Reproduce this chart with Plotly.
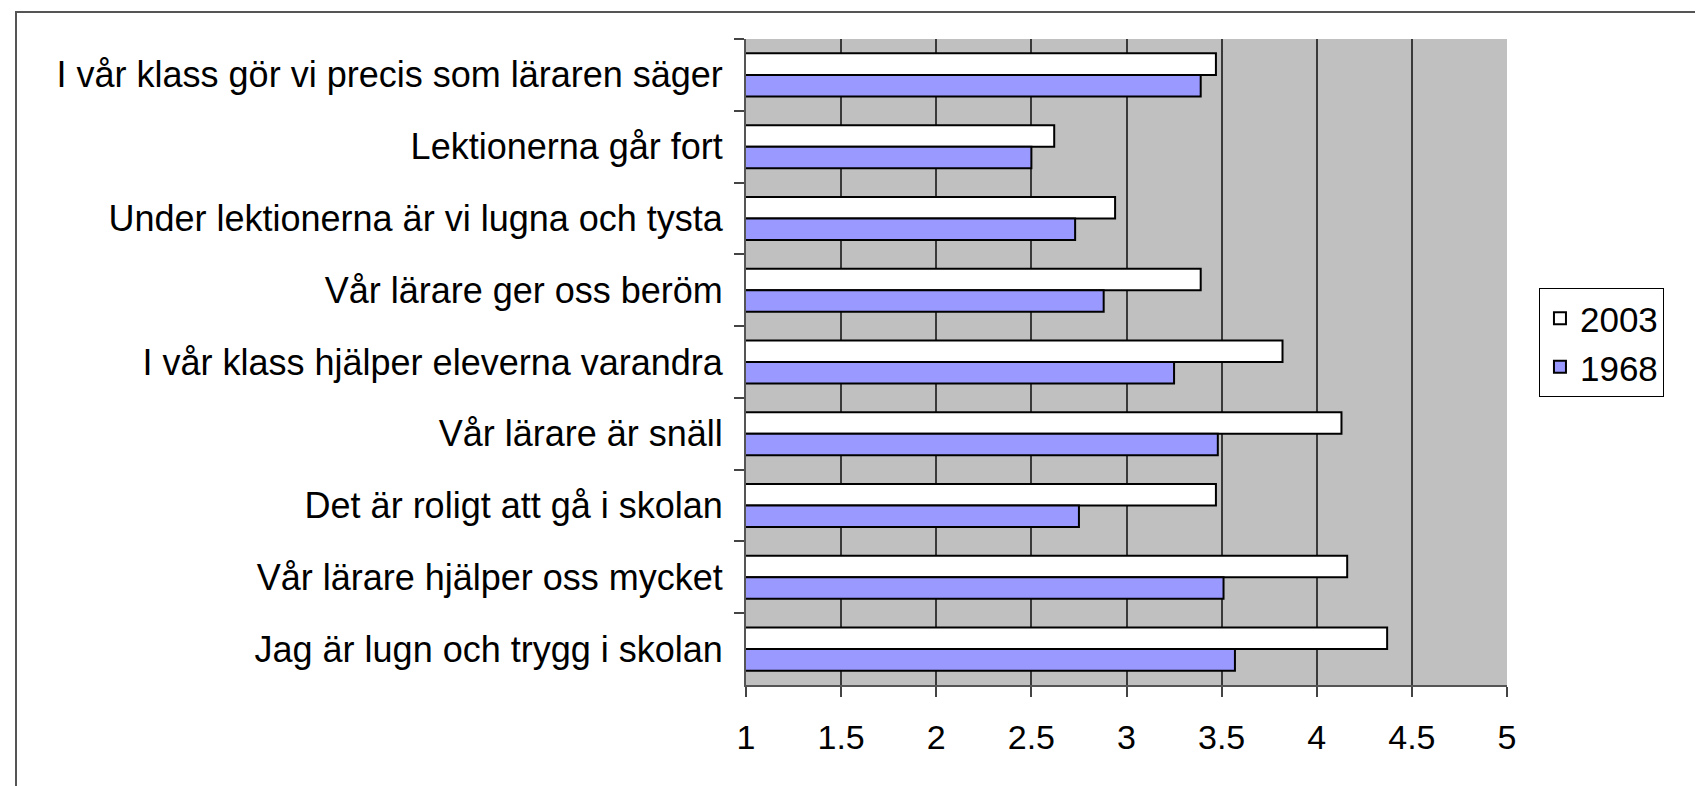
import plotly.graph_objects as go

categories = [
    "I vår klass gör vi precis som läraren säger",
    "Lektionerna går fort",
    "Under lektionerna är vi lugna och tysta",
    "Vår lärare ger oss beröm",
    "I vår klass hjälper eleverna varandra",
    "Vår lärare är snäll",
    "Det är roligt att gå i skolan",
    "Vår lärare hjälper oss mycket",
    "Jag är lugn och trygg i skolan",
]
values_2003 = [3.47, 2.62, 2.94, 3.39, 3.82, 4.13, 3.47, 4.16, 4.37]
values_1968 = [3.39, 2.50, 2.73, 2.88, 3.25, 3.48, 2.75, 3.51, 3.57]
x_ticks = [1, 1.5, 2, 2.5, 3, 3.5, 4, 4.5, 5]

FONT = "Liberation Sans, Arial, sans-serif"
W, H = 1703, 786
L, R, T, B = 738, 204, 31, 109

fig = go.Figure()
fig.add_trace(
    go.Bar(
        y=categories,
        x=values_2003,
        orientation="h",
        name="2003",
        marker=dict(color="#FFFFFF", line=dict(color="#000000", width=2)),
    )
)
fig.add_trace(
    go.Bar(
        y=categories,
        x=values_1968,
        orientation="h",
        name="1968",
        marker=dict(color="#9999FF", line=dict(color="#000000", width=2)),
    )
)

# ram runt hela bilden
pw, ph = W - L - R, H - T - B
fig.add_shape(
    type="rect",
    xref="paper",
    yref="paper",
    x0=(8 - L) / pw,
    x1=(W - 7 - L) / pw,
    y0=-(780 - (H - B)) / ph,
    y1=((H - B) - 4) / ph,
    line=dict(color="#555555", width=2),
    layer="below",
)

fig.update_layout(
    width=W,
    height=H,
    barmode="group",
    bargap=0.4,
    bargroupgap=0,
    paper_bgcolor="#FFFFFF",
    plot_bgcolor="#C0C0C0",
    font=dict(family=FONT, size=36, color="#000000"),
    margin=dict(l=L, r=R, t=T, b=B, pad=0),
    showlegend=True,
    legend=dict(
        x=1.042,
        y=0.53,
        xanchor="left",
        yanchor="middle",
        bgcolor="#FFFFFF",
        bordercolor="#000000",
        borderwidth=1,
        font=dict(size=35),
        itemwidth=30,
        tracegroupgap=0,
    ),
    xaxis=dict(
        range=[1, 5],
        tickvals=x_ticks,
        ticktext=[f"{v:g}" for v in x_ticks],
        showgrid=True,
        gridcolor="#3A3A3A",
        gridwidth=1.5,
        zeroline=False,
        showline=True,
        linecolor="#555555",
        linewidth=2,
        ticks="outside",
        ticklen=10,
        tickcolor="#444444",
        tickwidth=2,
        ticklabelstandoff=11,
        tickfont=dict(size=34),
        mirror=False,
    ),
    yaxis=dict(
        categoryorder="array",
        categoryarray=categories,
        autorange="reversed",
        showline=True,
        linecolor="#555555",
        linewidth=2,
        ticks="outside",
        tickson="boundaries",
        ticklen=10,
        tickcolor="#444444",
        tickwidth=2,
        ticklabelstandoff=14,
        tickfont=dict(size=36),
        showgrid=False,
    ),
)

fig.write_html("out.html")
